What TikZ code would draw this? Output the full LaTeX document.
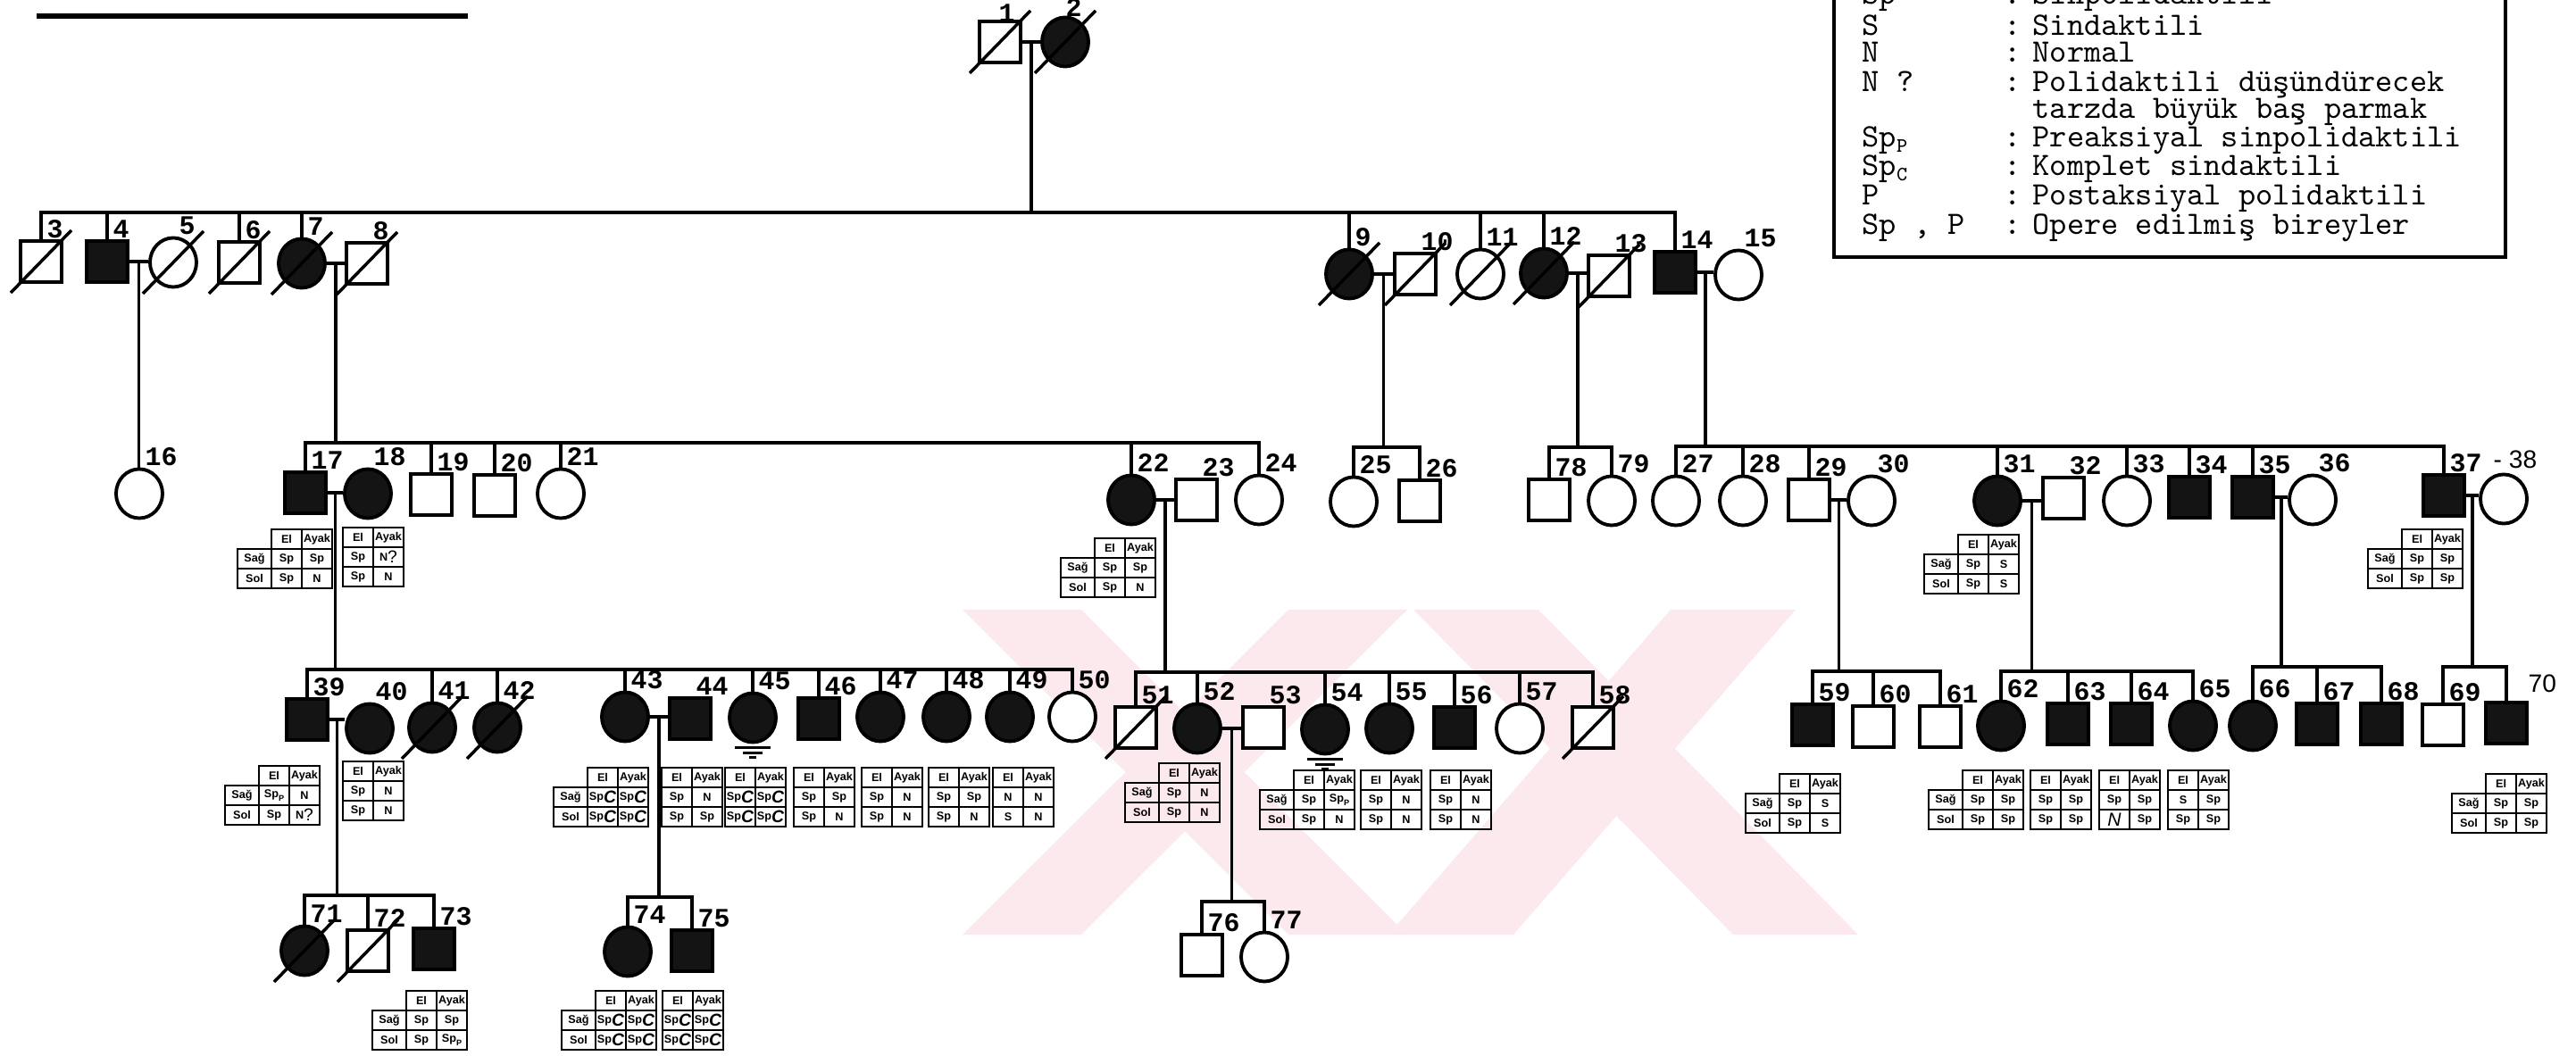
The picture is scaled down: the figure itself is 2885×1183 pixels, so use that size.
\documentclass[tikz,border=0pt]{standalone}
\usepackage{fontspec}
\usepackage{tikz}
\usetikzlibrary{calc,shapes.geometric}
\newfontfamily\numfont{Liberation Mono}
\newfontfamily\tabfont{Liberation Sans}
\definecolor{wmpink}{RGB}{252,233,237}

% cell entries
\newcommand{\spc}{Sp\raisebox{-.45ex}{\fontsize{5.5}{5.5}\selectfont\itshape C}}
\newcommand{\spp}{Sp\raisebox{-.5ex}{\fontsize{2.6}{2.6}\selectfont P}}
\newcommand{\nq}{N\raisebox{-.3ex}{\fontsize{5.5}{5.5}\selectfont\mdseries ?}}
\newcommand{\bign}{{\fontsize{6}{6}\selectfont\mdseries\itshape N}}

% pedigree helpers
\newcommand{\deceased}[1]{\draw[deadline] ($(p#1.center)+(-34,35)$) -- ($(p#1.center)+(34,-35)$);}
\newcommand{\operated}[1]{%
  \draw[conn] ($(p#1.south)+(-20,4)$) -- ($(p#1.south)+(20,4)$)
    ($(p#1.south)+(-11,10)$) -- ($(p#1.south)+(11,10)$)
    ($(p#1.south)+(-4,15)$) -- ($(p#1.south)+(4,15)$);}
\newcommand{\wed}[2]{\draw[conn] (p#1.east) -- coordinate (m#1) (p#1.east -| p#2.west);}
\newcommand{\sibship}[4]{%
  \coordinate (s#1) at (0,#2);
  \draw[conn] (m#1) -- (m#1 |- s#1);
  \draw[conn] (p#3.north) -- (p#3.north |- s#1) -- (p#4.north |- s#1) -- (p#4.north);}
\newcommand{\limbtab}[7]{%
  \begin{scope}[shift={(#2,#3)}]
    \draw[tabline] (0,0) rectangle (68,66) (34,0) -- (34,66) (0,22) -- (68,22) (0,44) -- (68,44);
    \node[tabtxt] (#1-el) at (17,11) {El};
    \node[tabtxt] (#1-ay) at (51,11) {Ayak};
    \node[tabtxt] (#1-a) at (17,33) {#4};
    \node[tabtxt] (#1-b) at (51,33) {#5};
    \node[tabtxt] (#1-c) at (17,55) {#6};
    \node[tabtxt] (#1-d) at (51,55) {#7};
  \end{scope}}
\newcommand{\limbtabL}[7]{%
  \limbtab{#1}{#2}{#3}{#4}{#5}{#6}{#7}
  \begin{scope}[shift={(#2,#3)}]
    \draw[tabline] (-38,22) rectangle (0,66) (-38,44) -- (0,44);
    \node[tabtxt] (#1-sag) at (-19,33) {Sağ};
    \node[tabtxt] (#1-sol) at (-19,55) {Sol};
  \end{scope}}

\begin{document}
\begin{tikzpicture}[
  x=0.01cm, y=-0.01cm,
  male/.style={draw, rectangle, line width=1.1pt,
    minimum width=0.46cm, minimum height=0.46cm, inner sep=0pt},
  female/.style={draw, ellipse, line width=1.1pt,
    minimum width=0.52cm, minimum height=0.55cm, inner sep=0pt},
  aff/.style={fill=black!92},
  unaff/.style={fill=white},
  conn/.style={line width=1pt},
  deadline/.style={line width=1pt},
  numlbl/.style={font=\numfont\bfseries\fontsize{8.5}{8.5}\selectfont,
    inner sep=0pt, anchor=south west},
  typedlbl/.style={font=\tabfont\fontsize{8}{8}\selectfont,
    inner sep=0pt, anchor=south west},
  tabline/.style={line width=0.5pt},
  tabtxt/.style={font=\tabfont\bfseries\fontsize{3.6}{4}\selectfont, inner sep=0pt},
  legtxt/.style={font=\ttfamily\addfontfeatures{FakeBold=0.7}\fontsize{10.4}{12}\selectfont,
    inner sep=0pt, anchor=base west}
]
\useasboundingbox (0,0) rectangle (2885,1183);

% watermark
\fill[wmpink] (1078,683) -- (1211,683) -- (1576,1047) -- (1443,1047) -- cycle;
\fill[wmpink] (1443,683) -- (1576,683) -- (1211,1047) -- (1078,1047) -- cycle;
\fill[wmpink] (1583,683) -- (1723,683) -- (2081,1047) -- (1941,1047) -- cycle;
\fill[wmpink] (1871,683) -- (2011,683) -- (1695,1047) -- (1555,1047) -- cycle;

% cut-off rule at the top
\draw[line width=1.6pt] (41,18) -- (524,18);

% legend
\draw[line width=1pt] (2054,-30) rectangle (2806,288);
\foreach \i/\k/\d/\yy in {
  1/Sp/Sinpolidaktili/5,
  2/S/Sindaktili/40,
  3/N/Normal/70,
  4/N ?/Polidaktili düşündürecek/103,
  6/Sp\raisebox{-.35ex}{\fontsize{6.5}{6.5}\selectfont P}/Preaksiyal sinpolidaktili/165,
  7/Sp\raisebox{-.35ex}{\fontsize{6.5}{6.5}\selectfont C}/Komplet sindaktili/197,
  8/P/Postaksiyal polidaktili/230,
  9/{Sp , P}/Opere edilmiş bireyler/263}
{
  \node[legtxt] (k\i) at (2085,\yy) {\k};
  \node[legtxt] (c\i) at (2244,\yy) {:};
  \node[legtxt] (d\i) at (2276,\yy) {\d};
}
\node[legtxt] (d5) at (2276,133) {tarzda büyük baş parmak};

% individuals
\foreach \n/\g/\a/\x/\y in {
  1/male/unaff/1120/47, 2/female/aff/1193/47,
  3/male/unaff/46/293, 4/male/aff/120/293, 5/female/unaff/194/294,
  6/male/unaff/268/294, 7/female/aff/338/295, 8/male/unaff/411/295,
  9/female/aff/1511/307, 10/male/unaff/1585/307, 11/female/unaff/1658/307,
  12/female/aff/1729/306, 13/male/unaff/1802/309, 14/male/aff/1876/305,
  15/female/unaff/1947/308,
  16/female/unaff/156/553, 17/male/aff/342/552, 18/female/aff/412/553,
  19/male/unaff/483/554, 20/male/unaff/554/555, 21/female/unaff/628/553,
  22/female/aff/1267/560, 23/male/unaff/1340/560, 24/female/unaff/1410/560,
  25/female/unaff/1516/562, 26/male/unaff/1590/561,
  78/male/unaff/1735/560, 79/female/unaff/1805/561,
  27/female/unaff/1877/561, 28/female/unaff/1952/561, 29/male/unaff/2026/560,
  30/female/unaff/2096/561, 31/female/aff/2237/561, 32/male/unaff/2311/558,
  33/female/unaff/2382/561, 34/male/aff/2452/557, 35/male/aff/2523/557,
  36/female/unaff/2590/560, 37/male/aff/2737/555, 38/female/unaff/2804/559,
  39/male/aff/344/806, 40/female/aff/414/816, 41/female/aff/484/815,
  42/female/aff/557/815, 43/female/aff/700/803, 44/male/aff/773/805,
  45/female/aff/843/804, 46/male/aff/917/805, 47/female/aff/986/803,
  48/female/aff/1060/803, 49/female/aff/1131/803, 50/female/unaff/1201/803,
  51/male/unaff/1272/815, 52/female/aff/1341/816, 53/male/unaff/1415/815,
  54/female/aff/1484/817, 55/female/aff/1556/816, 56/male/aff/1629/815,
  57/female/unaff/1702/816, 58/male/unaff/1784/815,
  59/male/aff/2030/812, 60/male/unaff/2098/814, 61/male/unaff/2173/814,
  62/female/aff/2241/813, 63/male/aff/2316/811, 64/male/aff/2387/811,
  65/female/aff/2456/813, 66/female/aff/2523/813, 67/male/aff/2595/811,
  68/male/aff/2667/811, 69/male/unaff/2736/812, 70/male/aff/2807/810,
  71/female/aff/341/1065, 72/male/unaff/412/1065, 73/male/aff/486/1063,
  74/female/aff/703/1066, 75/male/aff/775/1065,
  76/male/unaff/1346/1070, 77/female/unaff/1416/1072}
  {\node[\g,\a] (p\n) at (\x,\y) {};}

\node[numlbl] (l1) at ($(p1.north)+(-2,3)$) {1};
\node[numlbl] (l2) at ($(p2.north)+(0,2)$) {2};
\foreach \n in {3,...,37}
  {\node[numlbl] (l\n) at ($(p\n.north)+(6,-1)$) {\n};}
\foreach \n in {39,...,69}
  {\node[numlbl] (l\n) at ($(p\n.north)+(6,-1)$) {\n};}
\foreach \n in {71,...,79}
  {\node[numlbl] (l\n) at ($(p\n.north)+(6,-1)$) {\n};}
\node[typedlbl] (l38) at ($(p38.north)+(-12,-4)$) {- 38};
\node[typedlbl] (l70) at ($(p70.north)+(24,-9)$) {70};

\foreach \d in {1,2,3,5,6,7,8,9,10,11,12,13,41,42,51,58,71,72}
  {\deceased{\d}}
\operated{45}
\operated{54}

% couples
\wed{1}{2}   \wed{4}{5}   \wed{7}{8}   \wed{9}{10}  \wed{12}{13}
\wed{14}{15} \wed{17}{18} \wed{22}{23} \wed{29}{30} \wed{31}{32}
\wed{35}{36} \wed{37}{38} \wed{39}{40} \wed{43}{44} \wed{52}{53}

% sibships
\sibship{1}{238}{3}{14}
\foreach \c in {4,6,7,9,11,12} {\draw[conn] (p\c.north) -- (p\c.north |- s1);}
\draw[conn] (m4) -- (m4 |- p16.north);
\sibship{7}{496}{17}{24}
\foreach \c in {19,20,21,22} {\draw[conn] (p\c.north) -- (p\c.north |- s7);}
\sibship{9}{501}{25}{26}
\sibship{12}{501}{78}{79}
\sibship{14}{500}{27}{37}
\foreach \c in {28,29,31,33,34,35} {\draw[conn] (p\c.north) -- (p\c.north |- s14);}
\sibship{17}{750}{39}{50}
\foreach \c in {41,42,43,45,46,47,48,49} {\draw[conn] (p\c.north) -- (p\c.north |- s17);}
\sibship{22}{753}{51}{58}
\foreach \c in {52,54,55,56,57} {\draw[conn] (p\c.north) -- (p\c.north |- s22);}
\sibship{29}{752}{59}{61}
\draw[conn] (p60.north) -- (p60.north |- s29);
\sibship{31}{752}{62}{65}
\foreach \c in {63,64} {\draw[conn] (p\c.north) -- (p\c.north |- s31);}
\sibship{35}{747}{66}{68}
\draw[conn] (p67.north) -- (p67.north |- s35);
\sibship{37}{747}{69}{70}
\sibship{39}{1003}{71}{73}
\draw[conn] (p72.north) -- (p72.north |- s39);
\sibship{43}{1005}{74}{75}
\sibship{52}{1010}{76}{77}

% hand and foot findings
\limbtabL{t17}{304}{593}{Sp}{Sp}{Sp}{N}
\limbtab{t18}{384}{591}{Sp}{\nq}{Sp}{N}
\limbtabL{t22}{1226}{603}{Sp}{Sp}{Sp}{N}
\limbtabL{t31}{2193}{599}{Sp}{S}{Sp}{S}
\limbtabL{t37}{2690}{593}{Sp}{Sp}{Sp}{Sp}
\limbtabL{t39}{290}{858}{\spp}{N}{Sp}{\nq}
\limbtab{t40}{384}{853}{Sp}{N}{Sp}{N}
\limbtabL{t43}{658}{860}{\spc}{\spc}{\spc}{\spc}
\limbtab{t44}{741}{860}{Sp}{N}{Sp}{Sp}
\limbtab{t45}{812}{860}{\spc}{\spc}{\spc}{\spc}
\limbtab{t46}{889}{860}{Sp}{Sp}{Sp}{N}
\limbtab{t47}{965}{860}{Sp}{N}{Sp}{N}
\limbtab{t48}{1040}{860}{Sp}{Sp}{Sp}{N}
\limbtab{t49}{1112}{860}{N}{N}{S}{N}
\limbtabL{t52}{1298}{855}{Sp}{N}{Sp}{N}
\limbtabL{t54}{1449}{863}{Sp}{\spp}{Sp}{N}
\limbtab{t55}{1524}{863}{Sp}{N}{Sp}{N}
\limbtab{t56}{1602}{863}{Sp}{N}{Sp}{N}
\limbtabL{t59}{1993}{867}{Sp}{S}{Sp}{S}
\limbtabL{t62}{2198}{863}{Sp}{Sp}{Sp}{Sp}
\limbtab{t63}{2274}{863}{Sp}{Sp}{Sp}{Sp}
\limbtab{t64}{2351}{863}{Sp}{Sp}{\bign}{Sp}
\limbtab{t65}{2428}{863}{S}{Sp}{Sp}{Sp}
\limbtabL{t70}{2784}{867}{Sp}{Sp}{Sp}{Sp}
\limbtabL{t73}{455}{1110}{Sp}{Sp}{Sp}{\spp}
\limbtabL{t74}{667}{1110}{\spc}{\spc}{\spc}{\spc}
\limbtab{t75}{742}{1110}{\spc}{\spc}{\spc}{\spc}
\end{tikzpicture}
\end{document}
